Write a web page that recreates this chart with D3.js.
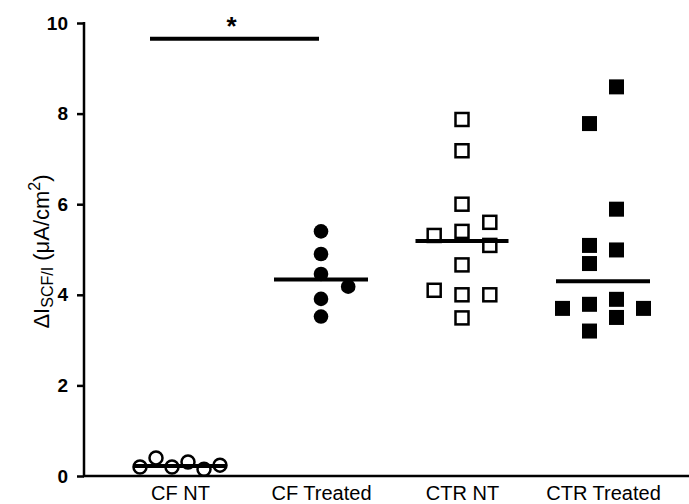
<!DOCTYPE html>
<html lang="en">
<head>
  <meta charset="UTF-8" />
  <title>Delta Isc scatter</title>
  <script src="https://d3js.org/d3.v7.min.js"></script>
  <style>
    body { margin: 0; background: #fff; font-family: 'Liberation Sans', Arial, sans-serif; }
    .tick text { font-family: 'Liberation Sans', Arial, sans-serif; }
  </style>
</head>
<body>
  <div id="chart"></div>
  <script>
    // Groups along the x axis
    const categories = ["CF NT", "CF Treated", "CTR NT", "CTR Treated"];
    const yTicks = [0, 2, 4, 6, 8, 10];

    // Points per group: [horizontal slot offset, value]
    const cfNT = [[-2.5, 0.2], [-1.5, 0.4], [-0.5, 0.2], [0.5, 0.31], [1.5, 0.15], [2.5, 0.24]];
    const cfTreated = [[0, 5.4], [0, 4.9], [0, 4.46], [1, 4.18], [0, 3.91], [0, 3.52]];
    const ctrNT = [[0, 7.87], [0, 7.18], [0, 6.0], [1, 5.6], [0, 5.4], [-1, 5.31],
                   [1, 5.09], [0, 4.66], [-1, 4.1], [0, 4.0], [1, 4.0], [0, 3.49]];
    const ctrTreated = [[0.5, 8.59], [-0.5, 7.78], [0.5, 5.89], [-0.5, 5.09], [0.5, 4.99],
                        [-0.5, 4.69], [0.5, 3.9], [-1.5, 3.7], [-0.5, 3.79], [1.5, 3.7],
                        [0.5, 3.5], [-0.5, 3.2]];
    const centers = [0.22, 4.34, 5.19, 4.3];   // horizontal summary lines
    const sigBar = { from: 0, to: 1, value: 9.65, label: "*" };

    const width = 689, height = 504;
    const margin = { top: 23, right: 0, bottom: 28, left: 84 };

    const svg = d3.select("#chart").append("svg")
      .attr("width", width).attr("height", height);

    const x = d3.scalePoint()
      .domain(categories)
      .range([180, 603]);

    const y = d3.scaleLinear()
      .domain([0, 10])
      .range([height - margin.bottom, margin.top]);

    const slot = 16;     // px between jittered points
    const slotSq = 27;

    // Y axis
    const yAxis = svg.append("g")
      .attr("transform", `translate(${margin.left},0)`)
      .call(d3.axisLeft(y).tickValues(yTicks).tickSize(7).tickPadding(9).tickFormat(d3.format("d")));
    yAxis.select(".domain").attr("stroke-width", 2.5).attr("d", `M0,${y(10) - 1}V${y(0)}`);
    yAxis.selectAll(".tick line").attr("stroke-width", 2.5);
    yAxis.selectAll(".tick text")
      .attr("font-size", 19).attr("font-weight", "bold").attr("fill", "#000");

    // X axis line
    const xAxis = svg.append("g")
      .attr("transform", `translate(0,${y(0)})`)
      .call(d3.axisBottom(x).tickSize(0).tickPadding(10));
    xAxis.select(".domain").attr("stroke-width", 2.5).attr("d", `M${margin.left - 1},0H${width}`);
    xAxis.selectAll(".tick text").attr("font-size", 20).attr("fill", "#000");

    // Y axis title
    const title = svg.append("text")
      .attr("transform", `translate(49,${(y(0) + y(10)) / 2 + 2}) rotate(-90)`)
      .attr("text-anchor", "middle")
      .attr("font-size", 22)
      .attr("fill", "#000");
    title.append("tspan").text("ΔI");
    title.append("tspan").attr("font-size", 16).attr("baseline-shift", "-4").text("SCF/I");
    title.append("tspan").text(" (μA/cm");
    title.append("tspan").attr("font-size", 16).attr("baseline-shift", "9").text("2");
    title.append("tspan").text(")");

    const stroke = 2.5;

    // CF NT - open circles
    svg.append("g").selectAll("circle").data(cfNT).join("circle")
      .attr("cx", d => x("CF NT") + d[0] * slot)
      .attr("cy", d => y(d[1]))
      .attr("r", 6.5)
      .attr("fill", "none").attr("stroke", "#000").attr("stroke-width", stroke);

    // CF Treated - filled circles
    svg.append("g").selectAll("circle").data(cfTreated).join("circle")
      .attr("cx", d => x("CF Treated") + d[0] * slot * 1.7)
      .attr("cy", d => y(d[1]))
      .attr("r", 7.3)
      .attr("fill", "#000");

    // CTR NT - open squares
    const sq = 13;
    svg.append("g").selectAll("rect").data(ctrNT).join("rect")
      .attr("x", d => x("CTR NT") + d[0] * slotSq * 1.03 - sq / 2)
      .attr("y", d => y(d[1]) - sq / 2)
      .attr("width", sq).attr("height", sq)
      .attr("fill", "none").attr("stroke", "#000").attr("stroke-width", stroke);

    // CTR Treated - filled squares
    const sqF = 15;
    svg.append("g").selectAll("rect").data(ctrTreated).join("rect")
      .attr("x", d => x("CTR Treated") + d[0] * slotSq - sqF / 2)
      .attr("y", d => y(d[1]) - sqF / 2)
      .attr("width", sqF).attr("height", sqF)
      .attr("fill", "#000");

    // Summary lines
    const halfW = [47, 47, 46.5, 47];
    svg.append("g").selectAll("line").data(centers).join("line")
      .attr("x1", (d, i) => x(categories[i]) - halfW[i])
      .attr("x2", (d, i) => x(categories[i]) + halfW[i])
      .attr("y1", d => y(d)).attr("y2", d => y(d))
      .attr("stroke", "#000").attr("stroke-width", 4);

    // Significance bar
    svg.append("line")
      .attr("x1", x(categories[sigBar.from]) - 30)
      .attr("x2", x(categories[sigBar.to]) - 2)
      .attr("y1", y(sigBar.value)).attr("y2", y(sigBar.value))
      .attr("stroke", "#000").attr("stroke-width", 4);
    svg.append("text")
      .attr("x", (x(categories[sigBar.from]) - 30 + x(categories[sigBar.to]) - 2) / 2 - 3)
      .attr("y", y(sigBar.value) - 4)
      .attr("text-anchor", "middle")
      .attr("font-size", 26).attr("font-weight", "bold")
      .text(sigBar.label);
  </script>
</body>
</html>
